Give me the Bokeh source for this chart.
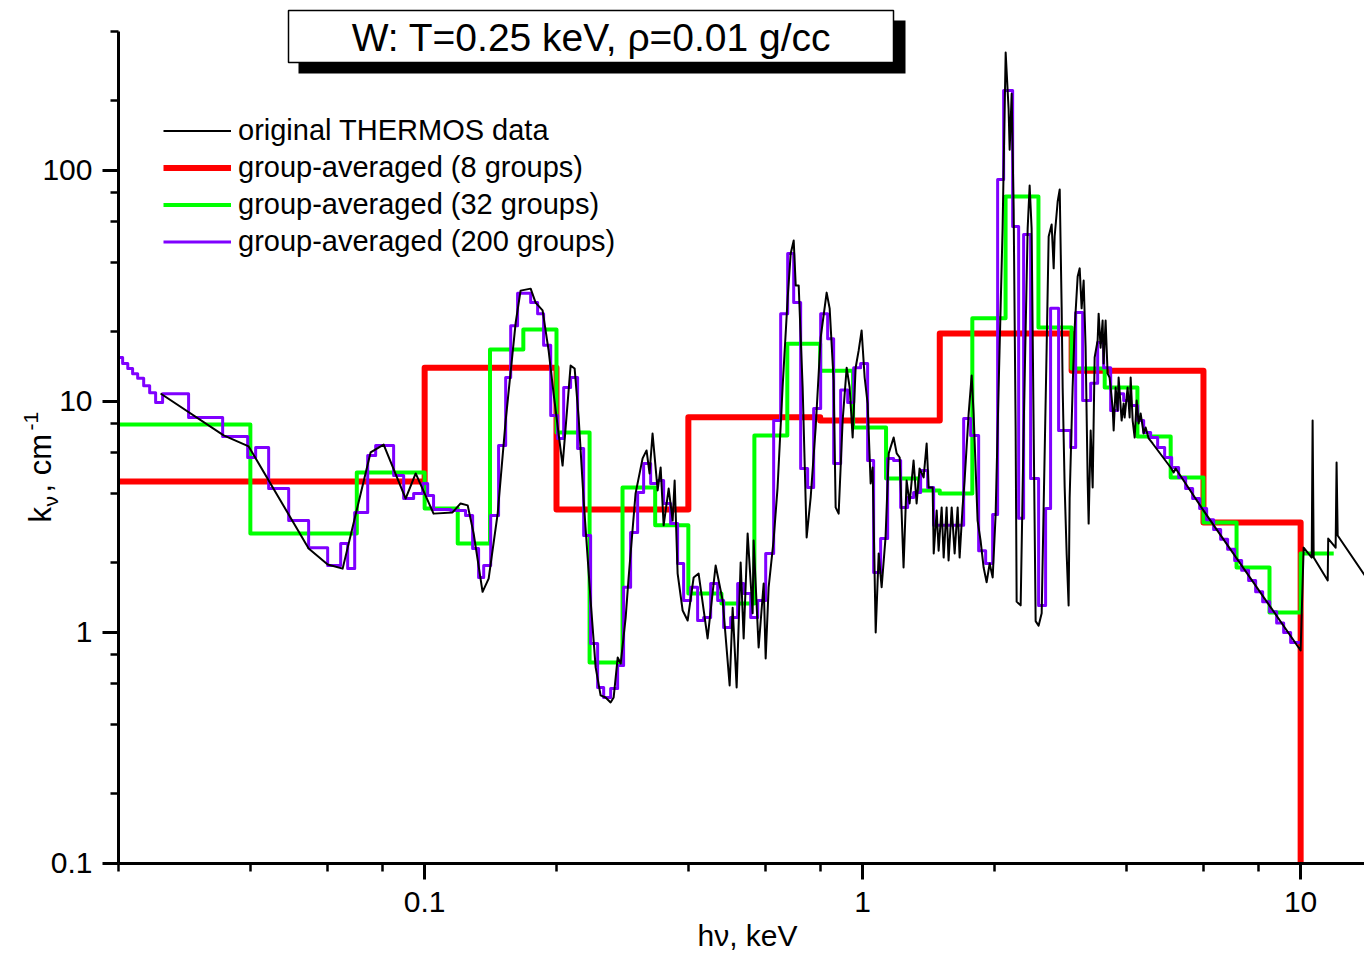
import math
from bokeh.plotting import figure
from bokeh.models import (FixedTicker, CustomJSTickFormatter, Legend, LegendItem,
                          BoxAnnotation, Label, Range1d)
from bokeh.embed import file_html
from bokeh.resources import INLINE

# ---------------- data (photon energy hv in keV, opacity k in cm^-1) ----------------
# original THERMOS data
black_e = [
    0.02495, 0.03476, 0.03965, 0.05434, 0.06007, 0.06498, 0.07526, 0.08061, 0.09049, 0.0954,
    0.1048, 0.1158, 0.1208, 0.1254, 0.1294, 0.1356, 0.1400, 0.1468, 0.1531, 0.1614,
    0.1656, 0.1746, 0.1792, 0.1859, 0.1919, 0.1970, 0.2065, 0.2154, 0.2200, 0.2247,
    0.2307, 0.2393, 0.2457, 0.2522, 0.2589, 0.2658, 0.2701, 0.2759, 0.2803, 0.2877,
    0.2922, 0.3031, 0.3145, 0.3211, 0.3262, 0.3314, 0.3404, 0.3458, 0.3513, 0.3607,
    0.3683, 0.3722, 0.3781, 0.3882, 0.3985, 0.4113, 0.4222, 0.4426, 0.4617, 0.4791,
    0.4970, 0.5049, 0.5156, 0.5266, 0.5350, 0.5463, 0.5608, 0.5638, 0.5788, 0.5943,
    0.6006, 0.6101, 0.6261, 0.6394, 0.6565, 0.6744, 0.6851, 0.6960, 0.7034, 0.7145,
    0.7295, 0.7450, 0.7609, 0.7812, 0.8020, 0.8276, 0.8408, 0.8586, 0.8677, 0.8815,
    0.9002, 0.9194, 0.9340, 0.9488, 0.9638, 0.9792, 0.9947, 1.0106, 1.0266, 1.043,
    1.054, 1.071, 1.088, 1.105, 1.128, 1.147, 1.177, 1.196, 1.215, 1.240,
    1.260, 1.280, 1.307, 1.328, 1.349, 1.378, 1.400, 1.415, 1.445, 1.453,
    1.476, 1.491, 1.515, 1.531, 1.555, 1.571, 1.597, 1.622, 1.648, 1.665,
    1.691, 1.709, 1.746, 1.774, 1.792, 1.830, 1.859, 1.889, 1.919, 1.950,
    1.981, 2.012, 2.044, 2.087, 2.121, 2.154, 2.166, 2.189, 2.212, 2.235,
    2.247, 2.295, 2.332, 2.381, 2.406, 2.431, 2.457, 2.483, 2.522, 2.563,
    2.590, 2.631, 2.659, 2.701, 2.730, 2.744, 2.788, 2.818, 2.847, 2.862,
    2.892, 2.923, 2.953, 2.969, 3.016, 3.048, 3.097, 3.130, 3.162, 3.196,
    3.229, 3.264, 3.281, 3.316, 3.351, 3.386, 3.440, 3.458, 3.494, 3.531,
    3.549, 3.587, 3.625, 3.663, 3.722, 3.742, 3.781, 3.821, 3.841, 3.902,
    3.944, 3.964, 4.027, 4.070, 4.092, 4.135, 4.179, 4.223, 4.267, 4.312,
    4.381, 4.427, 4.498, 4.593, 5.049, 5.129, 5.183, 6.003, 10.0,
    10.16, 10.60, 10.65, 10.71, 11.53, 11.56, 12.02, 12.08, 12.15, 14.0,
]
black_k = [
    10.83, 7.13, 6.39, 2.31, 1.97, 1.89, 6.02, 6.51, 3.80, 4.88,
    3.27, 3.31, 3.62, 3.55, 2.68, 1.50, 1.71, 3.27, 8.27, 22.0,
    30.2, 30.8, 26.8, 24.8, 16.6, 10.8, 5.28, 14.3, 13.9, 8.52,
    3.73, 1.376, 0.706, 0.534, 0.523, 0.498, 0.523, 0.779, 0.734, 1.16,
    1.73, 4.00, 5.67, 6.14, 4.88, 7.27, 4.12, 5.18, 2.91, 4.20,
    3.05, 4.55, 1.80, 1.245, 1.127, 1.73, 1.80, 0.942, 1.95, 1.376,
    0.590, 1.28, 0.578, 2.01, 0.942, 2.68, 1.21, 2.50, 0.861, 1.63,
    0.772, 1.57, 2.50, 4.24, 11.5, 28.2, 43.7, 49.8, 31.8, 31.8,
    11.5, 2.58, 3.84, 7.72, 18.9, 29.6, 25.3, 12.3, 3.48, 3.27,
    8.27, 14.0, 11.5, 6.98, 14.0, 16.6, 20.3, 12.7, 9.80, 4.42,
    5.18, 1.00, 2.20, 1.57, 2.58, 5.96, 6.98, 5.96, 5.72, 1.91,
    4.55, 3.62, 5.55, 3.62, 5.13, 4.69, 6.58, 4.24, 4.24, 2.20,
    3.37, 2.26, 3.48, 2.11, 3.48, 2.05, 3.48, 2.20, 3.48, 2.11,
    3.48, 4.55, 8.87, 12.96, 8.87, 3.05, 2.50, 1.91, 1.65, 1.99,
    1.73, 3.24, 11.5, 56.1, 324, 184, 123, 215, 67.8, 7.72,
    1.36, 1.31, 7.72, 56.1, 86.1, 56.1, 7.72, 1.12, 1.07, 1.21,
    3.51, 17.1, 51.8, 58.4, 37.7, 51.8, 73.4, 82.8, 25.3, 11.5,
    4.29, 2.18, 1.31, 3.80, 11.5, 20.7, 34.8, 37.7, 25.3, 33.4,
    17.1, 4.55, 2.96, 7.49, 4.24, 15.5, 18.4, 24.0, 17.1, 22.4,
    14.6, 22.4, 13.2, 12.7, 9.42, 7.49, 11.5, 9.14, 12.7, 8.27,
    9.80, 8.52, 11.5, 8.52, 12.7, 8.27, 6.98, 10.1, 8.03, 8.87,
    7.27, 7.72, 6.92, 6.58, 5.18, 4.93, 5.13, 3.37, 0.836,
    2.33, 2.11, 8.27, 2.11, 1.68, 2.55, 2.33, 5.44, 2.63, 1.77,
]

# 8-group averages
red_edges = [0.02, 0.1, 0.2, 0.4, 0.8, 1.5, 3.0, 6.0, 10.0]
red_vals = [4.50, 14.0, 3.41, 8.55, 8.28, 19.7, 13.6, 2.99]

# 32-group averages
green_edges = [0.02, 0.04, 0.07, 0.1, 0.119, 0.141, 0.168, 0.2, 0.238, 0.283,
               0.336, 0.4, 0.476, 0.566, 0.673, 0.8, 0.951, 1.131, 1.345, 1.5,
               1.78, 2.12, 2.52, 3.0, 3.57, 4.24, 5.05, 6.0, 7.14, 8.49,
               10.0, 11.9]
green_vals = [7.95, 2.68, 4.93, 3.44, 2.43, 16.8, 20.5, 7.34, 0.741, 4.24,
              2.91, 1.475, 1.335, 7.13, 17.8, 13.6, 7.72, 4.64, 4.12, 4.00,
              22.9, 77.2, 20.9, 13.9, 11.5, 7.05, 4.69, 2.99, 1.91, 1.22,
              2.20]

# 200-group averages
purple_edges = [
    0.02, 0.02044, 0.0210, 0.02154, 0.02212, 0.02283, 0.02356, 0.02431, 0.02522, 0.02891,
    0.03458, 0.03944, 0.04113, 0.04404, 0.04893, 0.05434, 0.06006, 0.06431, 0.06672, 0.06923,
    0.07413, 0.0773, 0.08495, 0.08956, 0.09438, 0.09895, 0.1016, 0.1048, 0.1147, 0.1240,
    0.1287, 0.1328, 0.1364, 0.1415, 0.1475, 0.1531, 0.1572, 0.1630, 0.1746, 0.1811,
    0.1869, 0.1940, 0.2012, 0.2077, 0.2154, 0.2235, 0.2307, 0.2393, 0.2483, 0.2563,
    0.2659, 0.2758, 0.2846, 0.2953, 0.3064, 0.3162, 0.3281, 0.3404, 0.3513, 0.3644,
    0.3781, 0.3902, 0.4049, 0.4200, 0.4335, 0.4498, 0.4667, 0.4816, 0.4997, 0.5184,
    0.5351, 0.5552, 0.5760, 0.6007, 0.6264, 0.6499, 0.6743, 0.6959, 0.7219, 0.7489,
    0.7730, 0.8020, 0.8320, 0.8587, 0.8909, 0.9244, 0.9540, 0.9895, 1.0266, 1.0595,
    1.0992, 1.1405, 1.1770, 1.2212, 1.2668, 1.3074, 1.3565, 1.4074, 1.4525, 1.7008,
    1.7645, 1.8402, 1.9092, 1.9808, 2.0333, 2.0985, 2.2003, 2.2708, 2.3310, 2.4183,
    2.5219, 2.6165, 2.6861, 2.8015, 2.9853, 3.0646, 3.1796, 3.3160, 3.4402, 3.5505,
    3.6837, 3.8218, 3.9443, 4.0922, 4.2457, 4.3817, 4.5455, 4.7159, 4.8927, 5.0760,
    5.2663, 5.4637, 5.6685, 5.8810, 6.1014, 6.3301, 6.5674, 6.8130, 7.0684, 7.3334,
    7.6083, 7.8935, 8.1899, 8.4968, 8.8154, 9.1458, 9.4887, 10.0,
]
purple_vals = [
    15.5, 14.6, 13.9, 13.2, 12.6, 11.7, 10.9, 9.90, 10.8, 8.52,
    7.05, 5.72, 6.32, 4.20, 3.05, 2.33, 1.95, 2.43, 1.89, 3.31,
    5.84, 6.45, 4.78, 3.80, 4.00, 4.42, 3.92, 3.41, 3.37, 3.21,
    2.31, 1.73, 1.95, 3.21, 6.45, 12.7, 21.3, 29.4, 26.8, 24.0,
    17.5, 8.70, 6.92, 11.5, 12.7, 6.26, 2.63, 0.896, 0.578, 0.523,
    0.572, 0.720, 1.57, 2.71, 4.04, 5.39, 4.42, 4.55, 3.62, 2.96,
    1.99, 1.376, 1.57, 1.127, 1.16, 1.63, 1.376, 1.05, 1.16, 1.63,
    1.475, 1.16, 1.376, 2.20, 8.28, 24.0, 43.7, 26.8, 5.13, 4.24,
    9.33, 24.0, 18.7, 5.39, 11.2, 9.90, 14.0, 14.6, 5.55, 1.82,
    2.55, 5.67, 5.55, 3.48, 3.84, 4.04, 5.03, 4.24, 2.91, 8.44,
    7.13, 2.26, 1.99, 3.24, 91.4, 222, 57.2, 3.12, 52.8, 4.64,
    1.31, 3.44, 25.3, 7.49, 6.32, 24.3, 10.1, 12.0, 18.0, 14.0,
    9.14, 10.8, 10.1, 9.61, 8.28, 7.34, 6.98, 6.32, 5.72, 5.18,
    4.69, 4.20, 3.80, 3.44, 3.08, 2.79, 2.53, 2.29, 2.05, 1.86,
    1.68, 1.50, 1.36, 1.23, 1.10, 1.00, 0.905,
]

x_major = [0.1, 1, 10]
x_minor = [0.02, 0.04, 0.06, 0.08, 0.2, 0.4, 0.6, 0.8, 2, 4, 6, 8]
y_major = [0.1, 1, 10, 100]
y_minor = [0.2, 0.4, 0.6, 0.8, 2, 4, 6, 8, 20, 40, 60, 80, 200, 400]

legend_labels = ["original THERMOS data", "group-averaged (8 groups)",
                 "group-averaged (32 groups)", "group-averaged (200 groups)"]
title_text = "W: T=0.25 keV, \u03c1=0.01 g/cc"


def steps(edges, vals):
    xs, ys = [], []
    for i, v in enumerate(vals):
        xs += [edges[i], edges[i + 1]]
        ys += [v, v]
    return xs, ys


FONT = "Liberation Sans"
W, H = 1364, 954

# the frame covers the whole canvas; the axes are pinned at hv=0.02 and k=0.1
p = figure(width=W, height=H, x_axis_type="log", y_axis_type="log",
           x_range=Range1d(0.010755, 13.99), y_range=Range1d(0.04036, 544.4),
           output_backend="svg", toolbar_location=None,
           min_border_left=0, min_border_right=0, min_border_top=0,
           min_border_bottom=0, outline_line_color=None,
           background_fill_color="white", border_fill_color="white")
p.xgrid.visible = False
p.ygrid.visible = False

rx, ry = steps(red_edges, red_vals)
rx.append(red_edges[-1])
ry.append(y_major[0])
gx, gy = steps(green_edges, green_vals)
px_, py_ = steps(purple_edges, purple_vals)

r_red = p.line(rx, ry, line_color="#FF0000", line_width=6, line_join="round")
r_green = p.line(gx, gy, line_color="#00FF00", line_width=4, line_join="round")
r_purple = p.line(px_, py_, line_color="#7F00FF", line_width=3, line_join="round")
r_black = p.line(black_e, black_k, line_color="black", line_width=2, line_join="round")

# axes
for ax in (p.xaxis[0], p.yaxis[0]):
    ax.axis_line_width = 3
    ax.major_tick_line_width = 3
    ax.minor_tick_line_width = 2.5
    ax.major_tick_out = 16
    ax.major_tick_in = 0
    ax.minor_tick_out = 8
    ax.minor_tick_in = 0
    ax.major_label_text_font = FONT
    ax.major_label_text_font_size = "30px"
    ax.major_label_text_color = "black"
    ax.formatter = CustomJSTickFormatter(code="return tick.toString()")

p.xaxis[0].ticker = FixedTicker(ticks=x_major, minor_ticks=x_minor)
p.yaxis[0].ticker = FixedTicker(ticks=y_major, minor_ticks=y_minor)
p.xaxis[0].fixed_location = 0.1
p.yaxis[0].fixed_location = 0.02
p.xaxis[0].bounds = (0.02, 14.0)
p.yaxis[0].bounds = (0.1, 400)
p.xaxis[0].major_label_standoff = 13
p.yaxis[0].major_label_standoff = 10

# legend
legend = Legend(items=[LegendItem(label=legend_labels[0], renderers=[r_black]),
                       LegendItem(label=legend_labels[1], renderers=[r_red]),
                       LegendItem(label=legend_labels[2], renderers=[r_green]),
                       LegendItem(label=legend_labels[3], renderers=[r_purple])],
                location=(163, 694), padding=0, margin=0, spacing=0,
                glyph_width=68, glyph_height=37, label_height=37, label_standoff=7,
                label_text_font=FONT, label_text_font_size="29px",
                label_text_color="black",
                border_line_color=None, background_fill_alpha=0)
p.add_layout(legend)

# title box with shadow (screen units = canvas px measured up from the bottom)
p.add_layout(BoxAnnotation(left=298, right=905, top=H - 20, bottom=H - 73,
                           left_units="screen", right_units="screen",
                           top_units="screen", bottom_units="screen",
                           fill_color="black", fill_alpha=1, line_color=None))
p.add_layout(BoxAnnotation(left=288, right=893, top=H - 10, bottom=H - 62,
                           left_units="screen", right_units="screen",
                           top_units="screen", bottom_units="screen",
                           fill_color="white", fill_alpha=1, line_color="black",
                           line_alpha=1, line_width=1.5))
p.add_layout(Label(x=591, y=H - 37, x_units="screen", y_units="screen", text=title_text,
                   text_align="center", text_baseline="middle",
                   text_font=FONT, text_font_size="39px", text_color="black"))

# axis titles
p.add_layout(Label(x=747, y=H - 935, x_units="screen", y_units="screen",
                   text="h\u03bd, keV", text_align="center", text_baseline="middle",
                   text_font=FONT, text_font_size="30px", text_color="black"))
rot = math.pi / 2
ylab_parts = [("k", 39.5, H - 522, "31px"), ("\u03bd", 49.8, H - 506, "21px"),
              (", cm", 39.5, H - 492, "31px"), ("-1", 30.5, H - 430, "21px")]
for txt, lx, ly, fs in ylab_parts:
    p.add_layout(Label(x=lx, y=ly, x_units="screen", y_units="screen", text=txt,
                       angle=rot, text_align="left", text_baseline="middle",
                       text_font=FONT, text_font_size=fs, text_color="black"))

open("out.html", "w").write(file_html(p, INLINE))
